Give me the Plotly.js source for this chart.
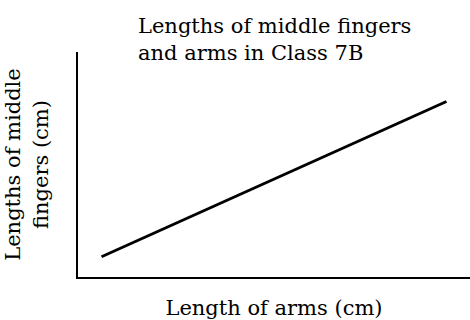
<!DOCTYPE html>
<html>
<head>
<meta charset="utf-8">
<script src="https://cdn.plot.ly/plotly-3.0.1.min.js"></script>
<style>
  html, body { margin: 0; padding: 0; background: #fff; }
  #plot { width: 470px; height: 320px; }
</style>
</head>
<body>
<div id="plot"></div>
<script>
// arm length vs middle finger length (no scale shown, relative units)
let armLengths = [0.6, 9.4];
let fingerLengths = [0.9, 7.8];

let trace = {
    x: armLengths,
    y: fingerLengths,
    mode: "lines",
    type: "scatter",
    line: { color: "#000", width: 3 },
    hoverinfo: "skip"
};

let serif = "DejaVu Serif, serif";

let layout = {
    width: 470,
    height: 320,
    showlegend: false,
    paper_bgcolor: "#fff",
    plot_bgcolor: "#fff",
    font: { family: serif, color: "#000", size: 21 },
    title: {
        text: "Lengths of middle fingers<br>and arms in Class 7B",
        font: { family: serif, size: 21, color: "#000" },
        xref: "container",
        x: 138 / 470,
        xanchor: "left",
        yref: "container",
        y: 1 - 33 / 320,
        yanchor: "middle"
    },
    xaxis: {
        range: [0, 10],
        showline: true,
        linecolor: "#000",
        linewidth: 2,
        showgrid: false,
        zeroline: false,
        showticklabels: false,
        ticks: "",
        title: { text: "Length of arms (cm)", standoff: 22, font: { size: 21 } }
    },
    yaxis: {
        range: [0, 10],
        showline: true,
        linecolor: "#000",
        linewidth: 2,
        showgrid: false,
        zeroline: false,
        showticklabels: false,
        ticks: "",
        title: { text: "Lengths of middle<br>fingers (cm)", standoff: 22, font: { size: 21 } }
    },
    margin: { l: 78, r: 0, t: 52, b: 43, pad: 0 }
};

Plotly.newPlot("plot", [trace], layout, { displayModeBar: false, staticPlot: true });
</script>
</body>
</html>
